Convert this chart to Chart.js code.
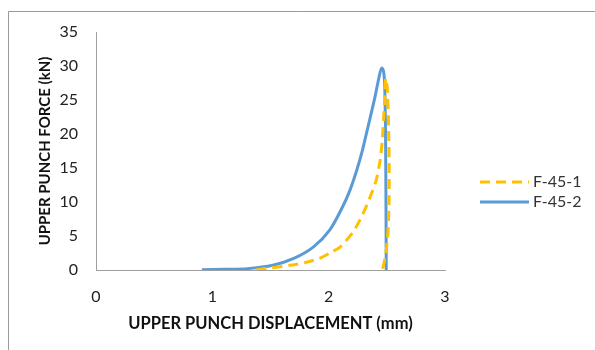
<!DOCTYPE html>
<html>
<head>
<meta charset="utf-8">
<script src="https://cdn.jsdelivr.net/npm/chart.js@4/dist/chart.umd.min.js"></script>
<style>
html,body{margin:0;padding:0;background:#fff;}
#wrap{width:595px;height:350px;position:relative;}
</style>
</head>
<body>
<div id="wrap"><canvas id="c" width="595" height="350"></canvas></div>
<script>
// Data
const seriesNames = ['F-45-1', 'F-45-2'];
const f451X = [1.38, 1.50, 1.67, 1.80, 1.92, 2.01, 2.10, 2.21, 2.27, 2.33, 2.38, 2.41, 2.444, 2.461, 2.472, 2.483, 2.49, 2.505, 2.515, 2.52, 2.518, 2.505, 2.485, 2.462];
const f451Y = [0.05, 0.3, 0.7, 1.1, 1.7, 2.5, 3.4, 5.6, 7.4, 9.6, 11.8, 13.3, 16.3, 19.2, 22.2, 25.2, 28.2, 26.5, 21, 15, 9, 4.5, 1.8, 0];
const f452X = [0.91, 1.10, 1.30, 1.52, 1.70, 1.87, 2.01, 2.12, 2.18, 2.24, 2.29, 2.34, 2.395, 2.44, 2.457, 2.472, 2.482, 2.49, 2.495];
const f452Y = [0.05, 0.1, 0.2, 0.7, 1.7, 3.4, 5.9, 9.3, 11.6, 14.6, 17.6, 21.2, 25.2, 28.9, 29.7, 29.2, 27.0, 18, 0];
const xTicks = [0, 1, 2, 3];
const yTicks = [0, 5, 10, 15, 20, 25, 30, 35];
const xTitle = 'UPPER PUNCH DISPLACEMENT (mm)';
const yTitle = 'UPPER PUNCH FORCE (kN)';

function pts(xs, ys){ return xs.map((x,i)=>({x:x, y:ys[i]})); }

const FONT = 'Lato, "Open Sans", sans-serif';

const framePlugin = {
  id: 'frame',
  afterDraw(chart){
    const ctx = chart.ctx;
    ctx.save();
    ctx.strokeStyle = '#9a9a9a';
    ctx.lineWidth = 1;
    ctx.beginPath();
    ctx.moveTo(8.5, 350); ctx.lineTo(8.5, 11.5); ctx.lineTo(595, 11.5);
    ctx.stroke();
    // legend
    const items = chart.data.datasets;
    const ys = [182, 202];
    items.forEach((ds, i) => {
      const y = ys[i];
      ctx.strokeStyle = ds.borderColor;
      ctx.lineWidth = ds.borderWidth;
      ctx.setLineDash(ds.borderDash || []);
      ctx.beginPath(); ctx.moveTo(480, y); ctx.lineTo(529, y); ctx.stroke();
      ctx.setLineDash([]);
      ctx.fillStyle = '#333';
      ctx.font = '16px ' + FONT;
      ctx.textBaseline = 'middle';
      ctx.textAlign = 'left';
      ctx.fillText(ds.label, 533, y);
    });
    ctx.restore();
  }
};

new Chart(document.getElementById('c'), {
  type: 'scatter',
  data: {
    datasets: [
      { label: seriesNames[0], data: pts(f451X, f451Y), showLine: true, borderColor: '#ffc000', backgroundColor: '#ffc000',
        borderWidth: 3, borderDash: [10, 6], pointRadius: 0, tension: 0.25, fill: false },
      { label: seriesNames[1], data: pts(f452X, f452Y), showLine: true, borderColor: '#5b9bd5', backgroundColor: '#5b9bd5',
        borderWidth: 3, pointRadius: 0, tension: 0.3, fill: false }
    ]
  },
  options: {
    responsive: false,
    animation: false,
    layout: { padding: { left: 8, top: 32, right: 150, bottom: 0 } },
    plugins: { legend: { display: false }, tooltip: { enabled: false } },
    scales: {
      x: {
        type: 'linear', min: 0, max: 3,
        afterBuildTicks(s){ s.ticks = xTicks.map(v=>({value:v})); },
        afterFit(s){ s.height = 80; },
        grid: { display: false, drawTicks: false },
        border: { display: true, color: '#a0a0a0', width: 1 },
        ticks: { padding: 17, color: '#222', font: { family: FONT, size: 16 } },
        title: { display: true, text: xTitle, color: '#111', padding: { top: 0, bottom: 16 }, font: { family: FONT, size: 16.5, weight: 'bold' } }
      },
      y: {
        min: 0, max: 35,
        afterBuildTicks(s){ s.ticks = yTicks.map(v=>({value:v})); },
        afterFit(s){ s.width = 88; },
        grid: { display: false, drawTicks: false },
        border: { display: true, color: '#a0a0a0', width: 1 },
        ticks: { padding: 18, color: '#222', font: { family: FONT, size: 16 } },
        title: { display: true, text: yTitle, color: '#111', padding: { top: 28, bottom: 0 }, font: { family: FONT, size: 15, weight: 'bold' } }
      }
    }
  },
  plugins: [framePlugin]
});
</script>
</body>
</html>
